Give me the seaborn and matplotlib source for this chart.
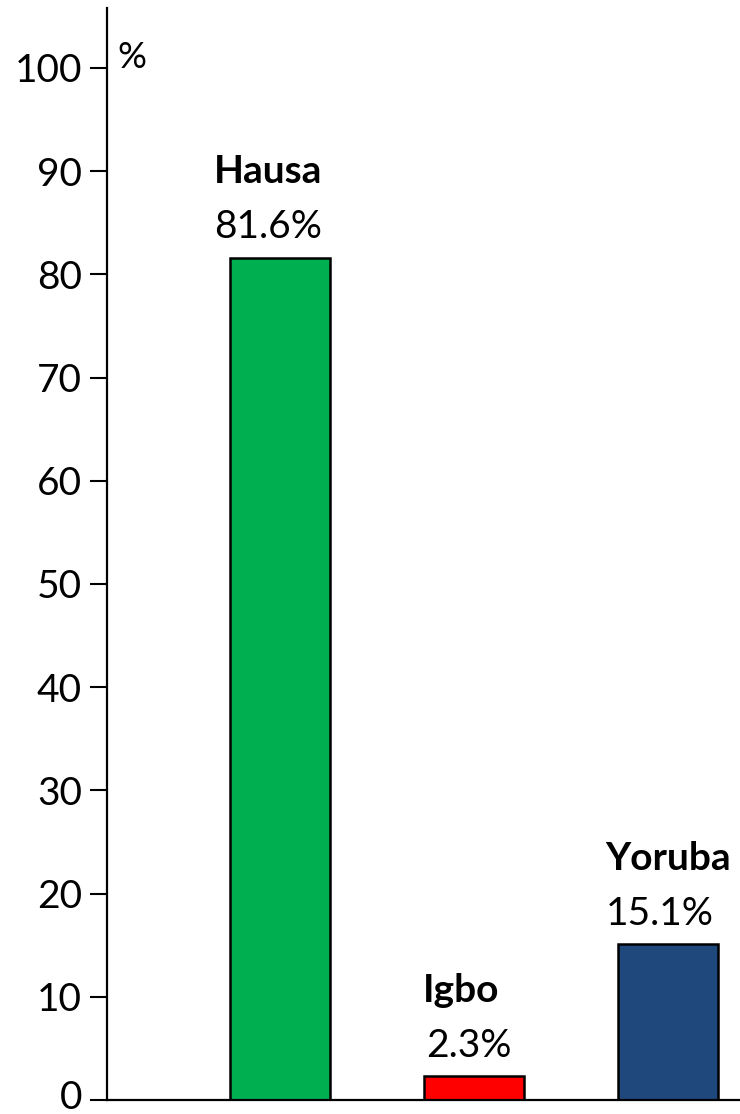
import matplotlib
matplotlib.use("Agg")
import matplotlib.pyplot as plt
import matplotlib.transforms as mtransforms
import seaborn as sns
import pandas as pd

# ---------- DATA ----------
groups = ["Hausa", "Igbo", "Yoruba"]
shares = [81.6, 2.3, 15.1]
bar_colors = ["#00B050", "#FF0000", "#1F497D"]
yticks = [0, 10, 20, 30, 40, 50, 60, 70, 80, 90, 100]

df = pd.DataFrame({"group": groups, "share": shares})

sns.set_style("white")
plt.rcParams["font.family"] = ["Lato", "DejaVu Sans"]
plt.rcParams["text.color"] = "black"
plt.rcParams["ytick.color"] = "black"
plt.rcParams["ytick.labelcolor"] = "black"

fig = plt.figure(figsize=(7.4, 11.14), dpi=100)
ax = fig.add_axes([0.1446, 0.0126, 0.8554, 0.9802])

sns.barplot(data=df, x="group", y="share", hue="group", palette=bar_colors,
            order=groups, width=0.515, edgecolor="black", linewidth=1.8,
            saturation=1, legend=False, ax=ax)

ax.set_xlim(-0.892, 2.371)
ax.set_ylim(0, 105.8)
ax.set_yticks(yticks)
ax.set_yticklabels([str(t) for t in yticks], fontsize=28)
ax.set_xticks([])
ax.set_xlabel("")
ax.set_ylabel("")

for side in ["top", "right"]:
    ax.spines[side].set_visible(False)
for side in ["left", "bottom"]:
    ax.spines[side].set_linewidth(1.6)
    ax.spines[side].set_color("black")
ax.tick_params(axis="y", length=12, width=1.5, pad=6, color="black", direction="out", left=True)

# nudge the "0" label up a little so it stays inside the figure
zero_lbl = ax.get_yticklabels()[0]
zero_lbl.set_transform(zero_lbl.get_transform() +
                       mtransforms.ScaledTranslation(0, 4 / 72, fig.dpi_scale_trans))

# labels above bars (small per-bar x nudges, like the original layout)
name_dx = [-12, -13, 0]
pct_dx = [-12, -5, -8]
for i, (g, v) in enumerate(zip(groups, shares)):
    ax.annotate(f"{v}%", (i, v), xytext=(pct_dx[i] * 0.72, 22), textcoords="offset points",
                ha="center", va="center", fontsize=28, color="black")
    ax.annotate(g, (i, v), xytext=(name_dx[i] * 0.72, 62), textcoords="offset points",
                ha="center", va="center", fontsize=28, fontweight="bold", color="black")

ax.text(0.04, 0.955, "%", transform=ax.transAxes, ha="center", va="center", fontsize=26)

fig.savefig("out.png", dpi=100)
